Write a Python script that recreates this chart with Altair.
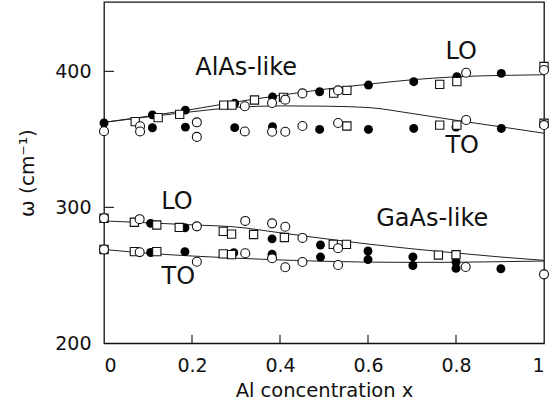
import altair as alt
import pandas as pd

# ---- data ----
# filled circles
filled_x = [0, 0.11, 0.11, 0.185, 0.185, 0.297, 0.297, 0.383, 0.383, 0.49, 0.49, 0.601, 0.601,
            0.704, 0.704, 0.802, 0.80, 0.903, 0.903,
            0.106, 0.184, 0.106, 0.184, 0.295, 0.382, 0.382, 0.492, 0.492, 0.6, 0.6,
            0.702, 0.702, 0.8, 0.8, 0.902]
filled_y = [362, 368, 358.5, 371.5, 359, 376.5, 358.6, 381.2, 359.3, 385, 357.3, 389.9, 357.3,
            392.4, 358, 396, 359, 398.5, 358,
            288.2, 285, 266.8, 267.4, 266.6, 276.8, 265.5, 272.3, 263.4, 267.9, 261.6,
            263.5, 257.2, 259.8, 255.1, 254.8]

# open circles
open_x = [0, 0.082, 0.082, 0.211, 0.211, 0.32, 0.32, 0.382, 0.382, 0.412, 0.412, 0.451, 0.451,
          0.532, 0.532, 0.823, 0.823, 1.0, 1.0,
          0, 0.081, 0.211, 0.321, 0.382, 0.412, 0.451, 0.532,
          0, 0.081, 0.211, 0.321, 0.382, 0.412, 0.451, 0.532, 0.822, 1.0]
open_y = [356, 359.6, 355.8, 362.5, 351.8, 374.3, 355.8, 376.7, 355.6, 379.2, 355.6, 383.8, 359.8,
          386, 362, 399, 364.2, 401, 360.5,
          292, 291.3, 286, 290, 288.2, 285.7, 277.5, 269.9,
          269, 267, 260, 266.2, 262.5, 255.9, 259.8, 257.6, 256.1, 250.7]

# open squares
square_x = [0.071, 0.123, 0.172, 0.272, 0.291, 0.342, 0.408, 0.522, 0.552, 0.763, 0.802, 1.0,
            0.552, 0.763, 0.802, 1.0,
            0, 0.069, 0.12, 0.171, 0.271, 0.29, 0.34, 0.41, 0.521, 0.551, 0.76, 0.8,
            0, 0.069, 0.12, 0.271, 0.29]
square_y = [363, 366, 368.4, 375.2, 375.2, 378.9, 380.9, 384, 386, 390.4, 392.4, 403.6,
            359.8, 360.5, 360.5, 361.8,
            292, 289, 287, 285.2, 282.3, 280.3, 280, 277.8, 272.8, 272.8, 264.9, 265.1,
            269, 267.4, 267.4, 265.8, 265.2]

# guide curves
line_x = [0, 0.1, 0.2, 0.3, 0.4, 0.5, 0.6, 0.7, 0.8, 0.9, 1.0]
alas_lo_line = [362.5, 367, 372, 377.5, 382.3, 386.8, 390.5, 393.8, 396, 397, 397.5]
alas_to_line = [362.5, 366.5, 370.3, 373.5, 374.6, 374.4, 373.4, 369, 364, 359.3, 354.5]
gaas_lo_line = [290, 288.6, 287.1, 285.5, 281.3, 277, 273, 269.5, 266.4, 263.5, 261]
gaas_to_line = [269, 266.2, 264.2, 262.6, 261.3, 260.3, 259.7, 259.5, 259.6, 260, 260.5]

# in-plot labels
label_text = ["AlAs-like", "LO", "TO", "LO", "TO", "GaAs-like"]
label_x = [0.323, 0.812, 0.814, 0.166, 0.169, 0.746]
label_y = [402.8, 414.0, 345.4, 303.7, 249.0, 291.6]

x_ticks = [0, 0.2, 0.4, 0.6, 0.8, 1]
y_ticks = [200, 300, 400]

# ---- build tables ----
df_filled = pd.DataFrame({"x": filled_x, "y": filled_y})
df_open = pd.DataFrame({"x": open_x, "y": open_y})
df_square = pd.DataFrame({"x": square_x, "y": square_y})
rows = []
for name, ys in [("AlAs LO", alas_lo_line), ("AlAs TO", alas_to_line),
                 ("GaAs LO", gaas_lo_line), ("GaAs TO", gaas_to_line)]:
    for xv, yv in zip(line_x, ys):
        rows.append({"series": name, "x": xv, "y": yv})
df_lines = pd.DataFrame(rows)
df_labels = pd.DataFrame({"text": label_text, "x": label_x, "y": label_y})
df_xt = pd.DataFrame({"v": x_ticks[1:-1]})
df_yt = pd.DataFrame({"v": y_ticks[1:]})

FONT = "DejaVu Sans"
W, H = 440, 341.3
xs = alt.Scale(domain=[0, 1], nice=False, zero=False)
ys_ = alt.Scale(domain=[200, 451], nice=False, zero=False)

xaxis = alt.Axis(values=x_ticks, format="~g", labelFlush=True, ticks=False, domain=False,
                 grid=False, labelFontSize=19, labelPadding=13, labelColor="#111",
                 title="Al concentration x", titleFontSize=19.5, titleFontWeight="normal",
                 titleColor="#111", titlePadding=6, labelFont=FONT, titleFont=FONT)
yaxis = alt.Axis(values=y_ticks, ticks=False, domain=False, grid=False, labelFontSize=19,
                 labelPadding=13, labelColor="#111", title="ω (cm⁻¹)", titleFontSize=20,
                 titleFontWeight="normal", titleColor="#111", titlePadding=17,
                 labelFont=FONT, titleFont=FONT)


def X(f="x"):
    return alt.X(f, type="quantitative", scale=xs, axis=xaxis)


def Y(f="y"):
    return alt.Y(f, type="quantitative", scale=ys_, axis=yaxis)


lines = alt.Chart(df_lines).mark_line(color="#222", strokeWidth=1.0, interpolate="monotone").encode(
    x=X(), y=Y(), detail="series:N")
filled = alt.Chart(df_filled).mark_point(shape="circle", filled=True, color="#000", size=80,
                                         opacity=1).encode(x=X(), y=Y())
squares = alt.Chart(df_square).mark_point(shape="square", fill="white", stroke="#111",
                                          strokeWidth=1.1, size=68, opacity=1,
                                          fillOpacity=1).encode(x=X(), y=Y())
opens = alt.Chart(df_open).mark_point(shape="circle", fill="white", stroke="#111",
                                      strokeWidth=1.1, size=80, opacity=1,
                                      fillOpacity=1).encode(x=X(), y=Y())
labels = alt.Chart(df_labels).mark_text(font=FONT, fontSize=24, color="#111",
                                        baseline="middle", align="center").encode(
    x=X(), y=Y(), text="text:N")
xt = alt.Chart(df_xt).mark_rule(color="#111", strokeWidth=1.1).encode(
    x=alt.X("v:Q", scale=xs, axis=xaxis), y=alt.value(H), y2=alt.value(H - 8.5))
yt = alt.Chart(df_yt).mark_rule(color="#111", strokeWidth=1.1).encode(
    y=alt.Y("v:Q", scale=ys_, axis=yaxis), x=alt.value(0), x2=alt.value(10))

chart = alt.layer(lines, xt, yt, filled, squares, opens, labels).properties(
    width=W, height=H,
    autosize=alt.AutoSizeParams(type="none"),
    padding={"left": 104, "top": 2, "right": 5, "bottom": 67.7},
    background="white",
).configure_view(stroke="#111", strokeWidth=1.3)

chart.save("out.html", embed_options={"renderer": "svg", "actions": False})
